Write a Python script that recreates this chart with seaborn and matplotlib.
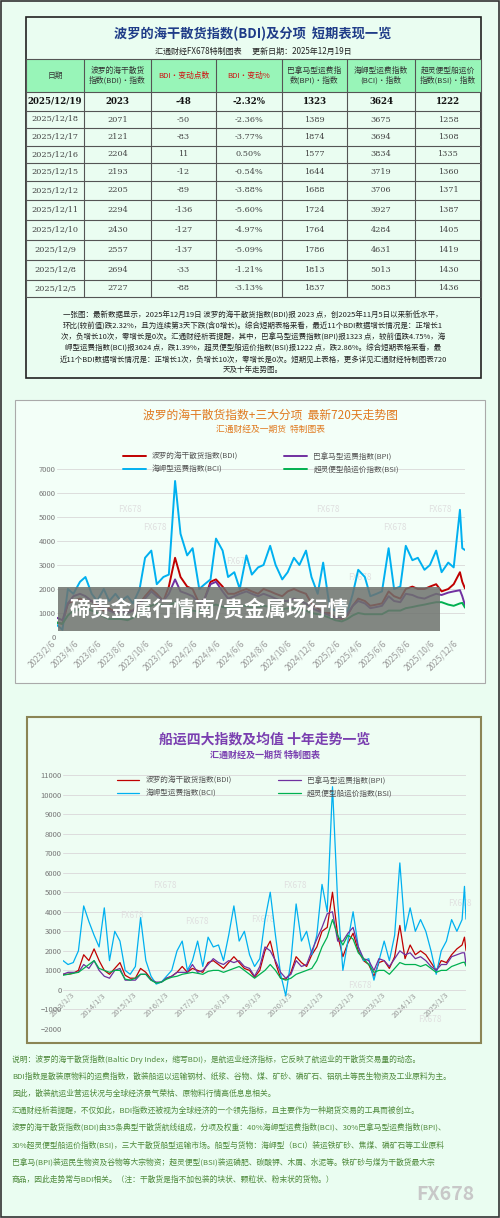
import matplotlib
matplotlib.use("Agg")
import matplotlib.pyplot as plt
import matplotlib.dates as mdates
import seaborn as sns
import pandas as pd
from matplotlib.patches import Rectangle

sns.set_theme(style="white")
plt.rcParams['font.family'] = ['Noto Sans CJK SC', 'DejaVu Sans']

# ---------------- table data ----------------
tbl_dates = ["2025/12/19","2025/12/18","2025/12/17","2025/12/16","2025/12/15","2025/12/12",
             "2025/12/11","2025/12/10","2025/12/9","2025/12/8","2025/12/5"]
tbl_bdi = [2023,2071,2121,2204,2193,2205,2294,2430,2557,2694,2727]
tbl_chg = [-48,-50,-83,11,-12,-89,-136,-127,-137,-33,-88]
tbl_pct = ["-2.32%","-2.36%","-3.77%","0.50%","-0.54%","-3.88%","-5.60%","-4.97%","-5.09%","-1.21%","-3.13%"]
tbl_bpi = [1323,1389,1874,1577,1644,1688,1724,1764,1786,1813,1837]
tbl_bci = [3624,3675,3694,3834,3719,3706,3927,4284,4631,5013,5083]
tbl_bsi = [1222,1258,1308,1335,1360,1371,1387,1405,1419,1430,1436]
headers = ["日期","波罗的海干散货\n指数(BDI)・指数","BDI・变动点数","BDI・变动%",
           "巴拿马型运费指\n数(BPI)・指数","海岬型运费指数\n(BCI)・指数","超灵便型船运价\n指数(BSI)・指数"]

# ---------------- 720-day chart data ----------------
dates1 = ["2023-02-06","2023-02-20","2023-03-06","2023-03-20","2023-04-06","2023-04-20","2023-05-06","2023-05-20",
          "2023-06-06","2023-06-20","2023-07-06","2023-07-20","2023-08-06","2023-08-20","2023-09-06","2023-09-20",
          "2023-10-06","2023-10-20","2023-11-06","2023-11-20","2023-12-06","2023-12-20","2024-01-06","2024-01-20",
          "2024-02-06","2024-02-20","2024-03-06","2024-03-20","2024-04-06","2024-04-20","2024-05-06","2024-05-20",
          "2024-06-06","2024-06-20","2024-07-06","2024-07-20","2024-08-06","2024-08-20","2024-09-06","2024-09-20",
          "2024-10-06","2024-10-20","2024-11-06","2024-11-20","2024-12-06","2024-12-20","2025-01-06","2025-01-20",
          "2025-02-06","2025-02-20","2025-03-06","2025-03-20","2025-04-06","2025-04-20","2025-05-06","2025-05-20",
          "2025-06-06","2025-06-20","2025-07-06","2025-07-20","2025-08-06","2025-08-20","2025-09-06","2025-09-20",
          "2025-10-06","2025-10-20","2025-11-06","2025-11-20","2025-12-06","2025-12-12","2025-12-19"]
bci1 = [500,300,2000,1800,2300,2500,1800,1500,2000,1500,1800,1500,1700,1400,2000,3300,3600,2200,2500,2600,
        6500,4300,3400,3700,2000,2200,2400,4100,3600,2500,2700,2000,3400,2600,2900,3000,3800,3000,2400,2700,
        3300,3000,3600,2500,1800,3100,1200,1100,1500,1000,1800,2800,2500,1700,1800,1900,3700,2000,2100,3800,
        3200,3300,2800,3000,3600,2700,3100,2900,5300,3700,3624]
bdi1 = [600,550,1400,1500,1600,1500,1500,1300,1100,1200,1000,1100,1100,1100,1400,1700,2000,1800,1500,2100,
        3300,2500,2100,2000,1400,1600,2300,2400,2100,1800,1800,1900,2000,1900,1800,2000,1900,1800,1700,1900,
        2000,1900,1800,1400,1200,1000,1000,800,750,900,1300,1600,1500,1300,1350,1400,1900,1700,1600,2000,
        2100,2000,2000,2100,2200,1900,2000,2200,2700,2300,2023]
bpi1 = [800,700,1400,1700,1800,1700,1500,1400,1200,1100,1000,1050,1000,1100,1400,1600,1900,1700,1500,1800,
        2400,1900,1800,1700,1400,1600,2200,2300,1900,1600,1700,1800,1900,1800,1700,1800,1700,1600,1500,1500,
        1600,1500,1400,1200,1100,1000,900,800,800,950,1300,1500,1400,1200,1250,1300,1700,1500,1450,1800,
        1750,1650,1600,1700,1800,1750,1850,1900,1950,1700,1323]
bsi1 = [600,550,900,1100,1150,1200,1100,1000,850,750,750,750,700,800,1000,1200,1300,1400,1300,1300,
        1450,1300,1150,1100,1050,1100,1300,1350,1250,1200,1250,1300,1300,1250,1250,1300,1250,1200,1150,1200,
        1200,1150,1100,1000,950,900,800,700,650,750,900,1000,950,950,950,950,1100,1100,1100,1200,
        1250,1300,1350,1400,1450,1450,1350,1300,1400,1420,1222]
ticks1 = ["2023-02-06","2023-04-06","2023-06-06","2023-08-06","2023-10-06","2023-12-06","2024-02-06","2024-04-06",
          "2024-06-06","2024-08-06","2024-10-06","2024-12-06","2025-02-06","2025-04-06","2025-06-06","2025-08-06",
          "2025-10-06","2025-12-06"]

# ---------------- ten-year chart data ----------------
months2 = ["01","03","05","07","09","11"]
years2 = list(range(2013, 2026))
dates2 = [f"{y}-{m}-03" for y in years2 for m in months2] + ["2025-12-01","2025-12-19"]
bci2 = [1500,1300,1400,2000,4300,3500, 2800,2200,4200,1500,3000,2500, 1000,800,1200,3700,1500,700,
        300,400,700,1000,2000,2500, 1000,1500,2500,1200,2700,2200, 2300,1500,2800,4300,2500,3000,
        1800,1200,1600,3600,5000,2800, 800,-300,1500,4400,2500,3000, 1800,2800,5400,4000,10400,4500,
        1000,2500,4000,2200,1500,1600, 500,1500,2500,1500,2800,6500, 3000,4200,3000,3600,3000,2000,
        800,2000,2500,3600,3000,3600,5300,3624]
bdi2 = [800,800,850,1000,1800,1500, 2100,1500,1000,800,1100,1400, 750,600,600,1100,900,550,
        350,400,600,700,900,1200, 900,1100,1000,900,1400,1500, 1300,1100,1400,1700,1400,1100,
        1000,650,1000,2000,2500,1400, 600,550,900,1700,1400,1200, 1800,2200,3000,3200,5000,2800,
        1700,2400,2900,2000,1500,1300, 700,1400,1500,1100,1700,3300, 1600,2300,1800,2000,1800,1400,
        1000,1500,1400,1800,2100,2300,2700,2023]
bpi2 = [800,900,900,900,1300,1100, 1500,1000,700,600,1000,1100, 500,500,500,800,800,500,
        400,400,600,700,900,900, 900,1300,900,1000,1300,1600, 1400,1300,1500,1400,1500,1200,
        1100,700,1200,2200,2000,1500, 900,600,800,1500,1200,1300, 2000,2600,3200,3900,4000,2500,
        2500,2900,3200,2200,1600,1500, 1000,1600,1500,1200,1600,2000, 1800,1900,1600,1700,1500,1200,
        1000,1300,1300,1700,1800,1900,1900,1323]
bsi2 = [750,800,850,900,1100,1300, 1500,1100,1000,900,1000,1000, 550,500,600,800,800,500,
        350,400,550,650,700,800, 850,900,850,800,950,1000, 1000,900,1000,1100,1200,1000,
        800,600,800,1000,1300,1000, 600,500,600,800,900,1000, 1100,1500,2200,2700,3600,2800,
        2300,2800,2600,1900,1600,1300, 900,1000,1000,800,1100,1400, 1300,1300,1300,1200,1300,1100,
        900,1000,1000,1200,1300,1400,1420,1222]
ticks2 = [f"{y}-01-03" for y in years2]

names = ["波罗的海干散货指数(BDI)", "海岬型运费指数(BCI)", "巴拿马型运费指数(BPI)", "超灵便型船运价指数(BSI)"]
colors = {"BDI": "#c00000", "BPI": "#7030a0", "BCI": "#00b0f0", "BSI": "#00b050"}

summary = ("一张图：最新数据显示，2025年12月19日 波罗的海干散货指数(BDI)报 2023 点，创2025年11月5日以来新低水平，\n"
           "环比(较前值)跌2.32%，且为连续第3天下跌(含0增长)。综合短期表格来看，最近11个BDI数据增长情况是：正增长1\n"
           "次，负增长10次，零增长是0次。汇通财经析若提醒，其中，巴拿马型运费指数(BPI)报1323 点，较前值跌4.75%，海\n"
           "岬型运费指数(BCI)报3624 点，跌1.39%，超灵便型船运价指数(BSI)报1222 点，跌2.86%。综合短期表格来看，最\n"
           "近11个BDI数据增长情况是：正增长1次，负增长10次，零增长是0次。短期见上表格，更多详见汇通财经特制图表720\n"
           "天及十年走势图。")
notes = ["说明：波罗的海干散货指数(Baltic Dry Index，缩写BDI)，是航运业经济指标，它反映了航运业的干散货交易量的动态。",
         "BDI指数是散装原物料的运费指数，散装船运以运输钢材、纸浆、谷物、煤、矿砂、磷矿石、铝矾土等民生物资及工业原料为主。",
         "因此，散装航运业营运状况与全球经济景气荣枯、原物料行情高低息息相关。",
         "汇通财经析若提醒，不仅如此，BDI指数还被视为全球经济的一个领先指标，且主要作为一种期货交易的工具而被创立。",
         "波罗的海干散货指数(BDI)由35条典型干散货航线组成，分项及权重：40%海岬型运费指数(BCI)、30%巴拿马型运费指数(BPI)、",
         "30%超灵便型船运价指数(BSI)，三大干散货船型运输市场。船型与货物：海岬型（BCI）装运铁矿砂、焦煤、磷矿石等工业原料",
         "巴拿马(BPI)装运民生物资及谷物等大宗物资；超灵便型(BSI)装运磷肥、碳酸钾、木屑、水泥等。铁矿砂与煤为干散货最大宗",
         "商品，因此走势常与BDI相关。（注：干散货是指不加包装的块状、颗粒状、粉末状的货物。）"]

W, H = 500, 1218
fig = plt.figure(figsize=(W/100, H/100), dpi=100, facecolor="#eafdf1")
bg = fig.add_axes([0, 0, 1, 1])
bg.set_xlim(0, W); bg.set_ylim(H, 0); bg.axis("off")
bg.add_patch(Rectangle((1, 1), W-2, H-2, fill=False, ec="#333333", lw=1.2))

# ---- table ----
colx = [26, 84, 151, 216, 282, 347, 415, 481]
rowy = [92, 111, 128, 146, 163, 181, 200, 220, 240, 260, 280, 297]
bg.add_patch(Rectangle((26, 17), 455, 361, fc="#eafdf1", ec="#222222", lw=1.2))
bg.add_patch(Rectangle((26, 59), 455, 33, fc="#98f5b8", ec="none"))
bg.text(253, 34, "波罗的海干散货指数(BDI)及分项  短期表现一览", ha="center", va="center",
        fontsize=9.5, color="#1f3c88", fontweight="bold")
bg.text(253, 51, "汇通财经FX678特制图表      更新日期：2025年12月19日", ha="center", va="center",
        fontsize=5.8, color="#222222")
for x in colx:
    bg.plot([x, x], [59, 297], color="#555555", lw=0.8)
for y in [59] + rowy:
    bg.plot([26, 481], [y, y], color="#555555", lw=0.8)
for i, h in enumerate(headers):
    c = "#d01010" if i in (2, 3) else "#333333"
    bg.text((colx[i]+colx[i+1])/2, 76, h, ha="center", va="center", fontsize=5.6, color=c, linespacing=1.2)
for r in range(len(tbl_dates)):
    yc = (rowy[r] + rowy[r+1]) / 2
    vals = [tbl_dates[r], str(tbl_bdi[r]), str(tbl_chg[r]), tbl_pct[r], str(tbl_bpi[r]), str(tbl_bci[r]), str(tbl_bsi[r])]
    for i, v in enumerate(vals):
        bg.text((colx[i]+colx[i+1])/2, yc, v, ha="center", va="center", fontsize=6.2 if r == 0 else 5.9,
                color="#111111" if r == 0 else "#444444", fontweight="bold" if r == 0 else "normal",
                family=["DejaVu Serif"])
bg.text(253, 343, summary, ha="center", va="center", fontsize=5.4, color="#222222", linespacing=1.45)

# ---- chart panels ----
bg.add_patch(Rectangle((15, 400), 470, 283, fc="#f3fff8", ec="#aaaaaa", lw=0.8))
bg.text(270, 415, "波罗的海干散货指数+三大分项  最新720天走势图", ha="center", va="center", fontsize=8.5, color="#e07a20")
bg.text(270, 429, "汇通财经及一期货  特制图表", ha="center", va="center", fontsize=6.3, color="#e07a20")
bg.add_patch(Rectangle((27, 717), 454, 326, fc="#eefdf3", ec="#8b8555", lw=1.5))
bg.text(265, 739, "船运四大指数及均值 十年走势一览", ha="center", va="center", fontsize=10, color="#7a3fb0", fontweight="bold")
bg.text(265, 755, "汇通财经及一期货 特制图表", ha="center", va="center", fontsize=6.5, color="#7a3fb0", fontweight="bold")

for i, line in enumerate(notes):
    bg.text(12, 1059 + i*17.2, line, ha="left", va="center", fontsize=5.6, color="#4f8a3c")
bg.text(445, 1195, "FX678", ha="center", va="center", fontsize=14, color="#c8c8c8", fontweight="bold")


def make_chart(left, right, ytop, ybot, dates, series, ylim, yticks, ticks, lw, legend_y, legend_dx, wm,
               xlab_at_zero=False, xls=5.5):
    ax = fig.add_axes([left/W, 1-ybot/H, (right-left)/W, (ybot-ytop)/H])
    ax.patch.set_alpha(0)
    d = pd.to_datetime(dates)
    for key, vals, lab in series:
        sns.lineplot(x=d, y=vals, ax=ax, color=colors[key], lw=lw, label=lab)
    ax.set_ylim(*ylim)
    ax.set_yticks(yticks)
    ax.set_xlim(d[0], d[-1])
    ax.set_xticks(pd.to_datetime(ticks))
    ax.xaxis.set_major_formatter(mdates.DateFormatter("%Y/%-m/%-d"))
    ax.tick_params(axis="x", rotation=45, labelsize=xls, colors="#999999", pad=1, length=0)
    ax.tick_params(axis="y", labelsize=5.5, colors="#777777", pad=1, length=0)
    for lab in ax.get_xticklabels():
        lab.set_ha("right")
    ax.grid(axis="y", color="#dddddd", lw=0.7)
    for s in ax.spines.values():
        s.set_visible(False)
    if xlab_at_zero:
        ax.spines["bottom"].set_position(("data", 0))
    ax.set_xlabel(""); ax.set_ylabel("")
    hs, ls = ax.get_legend_handles_labels()
    ax.legend(hs, ls, ncol=2, loc="center", bbox_to_anchor=((left+right)/2/W + legend_dx, 1-legend_y/H),
              bbox_transform=fig.transFigure, frameon=False, fontsize=5.5, handlelength=3,
              columnspacing=6, labelspacing=0.6, labelcolor="#555555")
    for (wx, wy) in wm:
        bg.text(wx, wy, "FX678", fontsize=6, color="#e0e0e0", ha="center", va="center")
    return ax

make_chart(57, 465, 469, 637, dates1,
           [("BDI", bdi1, names[0]), ("BCI", bci1, names[1]), ("BPI", bpi1, names[2]), ("BSI", bsi1, names[3])],
           (0, 7000), range(0, 7001, 1000), ticks1, 1.4, 463, 0.0,
           [(130, 509), (155, 527), (238, 561), (328, 509), (395, 527), (440, 509), (360, 577)], xls=6)
make_chart(63, 466, 775, 1029, dates2,
           [("BDI", bdi2, names[0]), ("BCI", bci2, names[1]), ("BPI", bpi2, names[2]), ("BSI", bsi2, names[3])],
           (-2000, 11000), range(-2000, 11001, 1000), ticks2, 0.9, 787, -0.02,
           [(165, 885), (132, 916), (197, 922), (295, 885), (263, 919), (360, 986), (460, 903), (430, 1020)],
           xlab_at_zero=True, xls=5.5)

# ---- overlay banner ----
ov = fig.add_axes([0, 0, 1, 1])
ov.set_xlim(0, W); ov.set_ylim(H, 0); ov.axis("off"); ov.patch.set_alpha(0)
ov.add_patch(Rectangle((58, 587), 382, 44, fc="#6e726e", alpha=0.85, ec="none"))
ov.text(70, 609, "碲贵金属行情南/贵金属场行情", ha="left", va="center", fontsize=15, color="white", fontweight="bold")

fig.savefig("out.png", dpi=100, facecolor=fig.get_facecolor())
